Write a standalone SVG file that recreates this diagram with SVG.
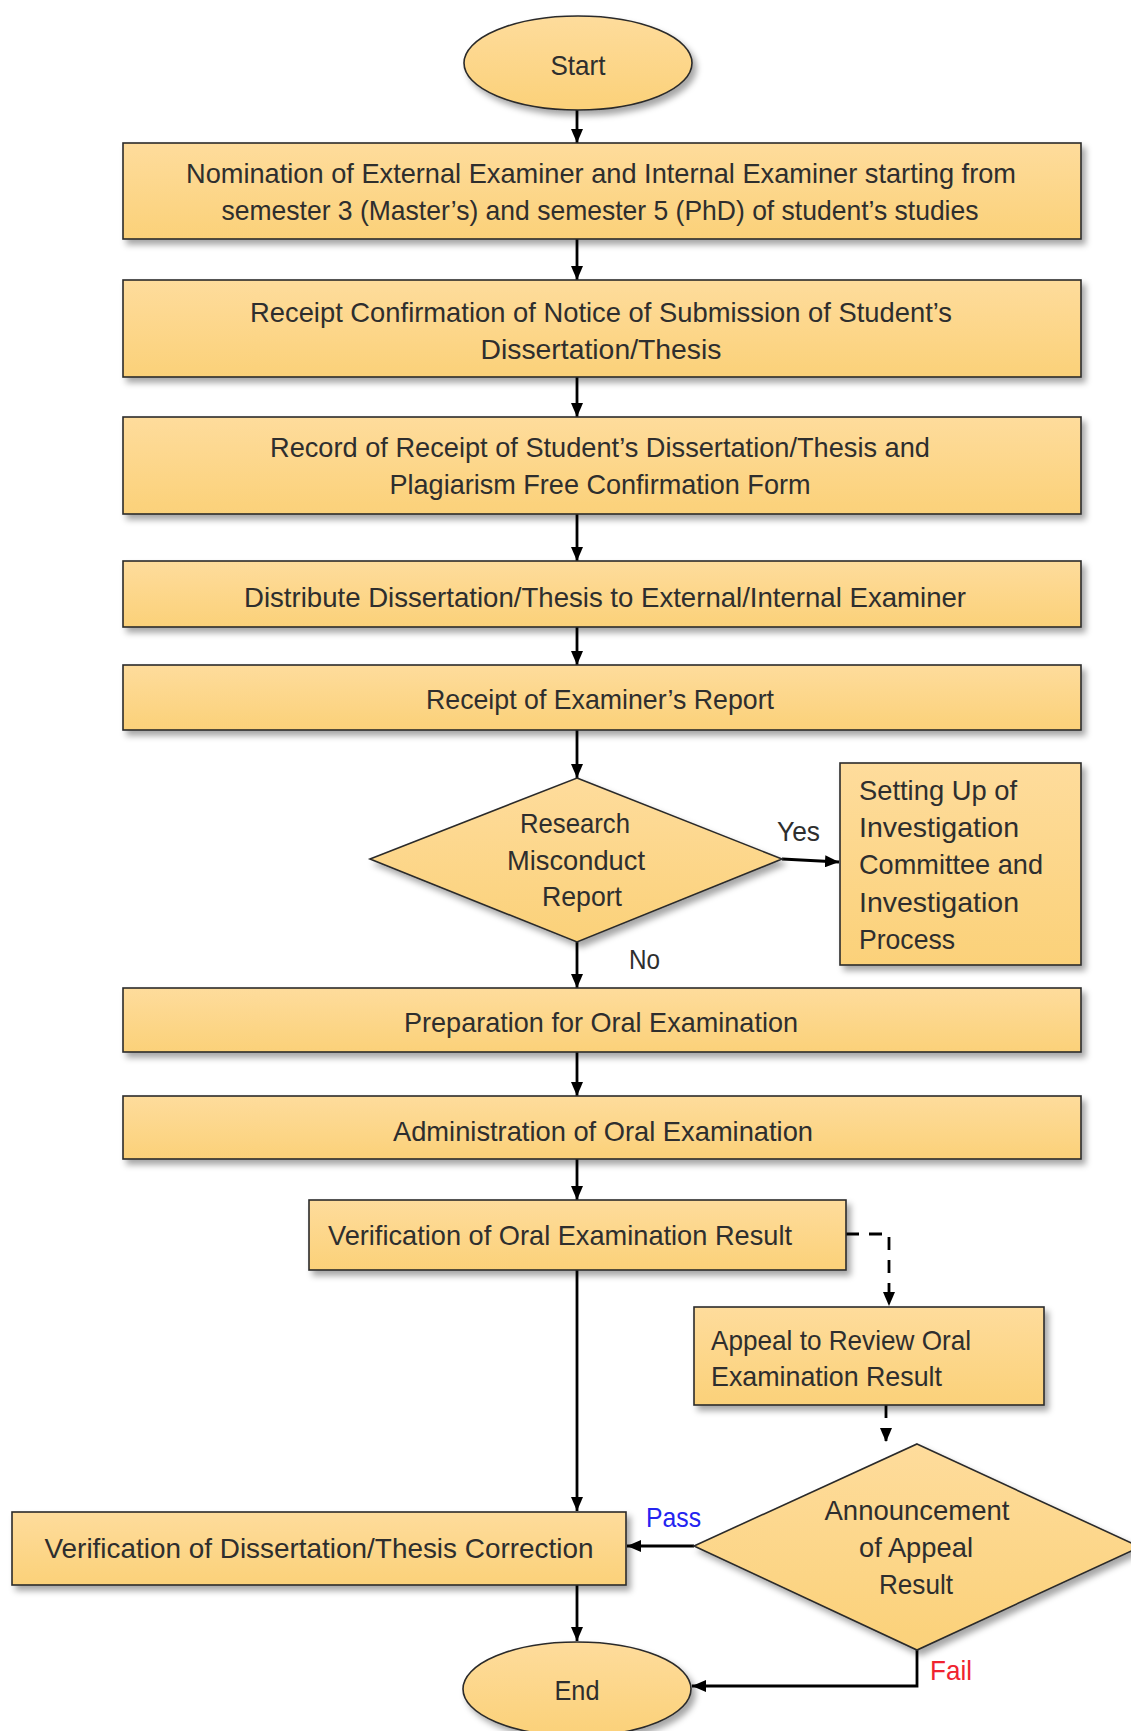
<svg xmlns="http://www.w3.org/2000/svg" width="1131" height="1731" viewBox="0 0 1131 1731">
<style>
.box{fill:url(#g);stroke:#2a2a2a;stroke-width:1.6;filter:url(#sh)}
.t{font-family:"Liberation Sans",Arial,sans-serif;font-size:28px;fill:#2e2e2e}
.c{text-anchor:middle}
.ln{stroke:#000;stroke-width:2.8;fill:none}
.ar{marker-end:url(#a)}
.d{stroke-dasharray:13 10}
</style>
<defs>
<linearGradient id="g" x1="0" y1="0" x2="0" y2="1">
<stop offset="0" stop-color="#FEDC9C"/>
<stop offset="1" stop-color="#FBD179"/>
</linearGradient>
<filter id="sh" x="-10%" y="-20%" width="130%" height="150%">
<feDropShadow dx="4" dy="5" stdDeviation="3" flood-color="#000" flood-opacity="0.35"/>
</filter>
<marker id="a" viewBox="0 0 14 12" markerWidth="14" markerHeight="12" refX="14" refY="6" orient="auto" markerUnits="userSpaceOnUse">
<path d="M0,0 L14,6 L0,12 z" fill="#000"/>
</marker>
</defs>
<rect width="1131" height="1731" fill="#fff"/>

<g id="connectors">
<line class="ln ar" x1="577" y1="110" x2="577" y2="143"/>
<line class="ln ar" x1="577" y1="239" x2="577" y2="280"/>
<line class="ln ar" x1="577" y1="377" x2="577" y2="417"/>
<line class="ln ar" x1="577" y1="514" x2="577" y2="561"/>
<line class="ln ar" x1="577" y1="627" x2="577" y2="665"/>
<line class="ln ar" x1="577" y1="730" x2="577" y2="778"/>
<line class="ln ar" x1="782" y1="859" x2="839" y2="862"/>
<line class="ln ar" x1="577" y1="942" x2="577" y2="988"/>
<line class="ln ar" x1="577" y1="1052" x2="577" y2="1096"/>
<line class="ln ar" x1="577" y1="1159" x2="577" y2="1200"/>
<line class="ln ar" x1="577" y1="1270" x2="577" y2="1511"/>
<polyline class="ln ar d" points="846,1234 889,1234 889,1306"/>
<line class="ln ar d" x1="886" y1="1405" x2="886" y2="1442"/>
<line class="ln ar" x1="694" y1="1546" x2="627" y2="1546"/>
<line class="ln ar" x1="577" y1="1585" x2="577" y2="1641"/>
<polyline class="ln ar" points="917,1650 917,1686 692,1686"/>
<text class="t" x="777" y="841" textLength="43" lengthAdjust="spacingAndGlyphs">Yes</text>
<text class="t" x="629" y="969" textLength="31" lengthAdjust="spacingAndGlyphs">No</text>
<text class="t" x="646" y="1527" style="fill:#2424f0" textLength="55" lengthAdjust="spacingAndGlyphs">Pass</text>
<text class="t" x="930" y="1680" style="fill:#f0232f" textLength="42" lengthAdjust="spacingAndGlyphs">Fail</text>
</g>

<g id="start">
<ellipse class="box" cx="578" cy="63" rx="114" ry="47"/>
<text class="t c" x="578" y="75" textLength="55" lengthAdjust="spacingAndGlyphs">Start</text>
</g>

<g id="nomination">
<rect class="box" x="123" y="143" width="958" height="96"/>
<text class="t c" x="601" y="183" textLength="830" lengthAdjust="spacingAndGlyphs">Nomination of External Examiner and Internal Examiner starting from</text>
<text class="t c" x="600" y="220" textLength="757" lengthAdjust="spacingAndGlyphs">semester 3 (Master’s) and semester 5 (PhD) of student’s studies</text>
</g>

<g id="receipt-confirmation">
<rect class="box" x="123" y="280" width="958" height="97"/>
<text class="t c" x="601" y="322" textLength="702" lengthAdjust="spacingAndGlyphs">Receipt Confirmation of Notice of Submission of Student’s</text>
<text class="t c" x="601" y="359" textLength="241" lengthAdjust="spacingAndGlyphs">Dissertation/Thesis</text>
</g>

<g id="record-receipt">
<rect class="box" x="123" y="417" width="958" height="97"/>
<text class="t c" x="600" y="457" textLength="660" lengthAdjust="spacingAndGlyphs">Record of Receipt of Student’s Dissertation/Thesis and</text>
<text class="t c" x="600" y="494" textLength="421" lengthAdjust="spacingAndGlyphs">Plagiarism Free Confirmation Form</text>
</g>

<g id="distribute">
<rect class="box" x="123" y="561" width="958" height="66"/>
<text class="t c" x="605" y="607" textLength="722" lengthAdjust="spacingAndGlyphs">Distribute Dissertation/Thesis to External/Internal Examiner</text>
</g>

<g id="examiner-report">
<rect class="box" x="123" y="665" width="958" height="65"/>
<text class="t c" x="600" y="709" textLength="348" lengthAdjust="spacingAndGlyphs">Receipt of Examiner’s Report</text>
</g>

<g id="misconduct">
<polygon class="box" points="577,778 782,859 577,942 370,859"/>
<text class="t c" x="575" y="833" textLength="110" lengthAdjust="spacingAndGlyphs">Research</text>
<text class="t c" x="576" y="870" textLength="138" lengthAdjust="spacingAndGlyphs">Misconduct</text>
<text class="t c" x="582" y="906" textLength="80" lengthAdjust="spacingAndGlyphs">Report</text>
</g>

<g id="investigation">
<rect class="box" x="840" y="763" width="241" height="202"/>
<text class="t" x="859" y="800" textLength="158" lengthAdjust="spacingAndGlyphs">Setting Up of</text>
<text class="t" x="859" y="837" textLength="160" lengthAdjust="spacingAndGlyphs">Investigation</text>
<text class="t" x="859" y="874" textLength="184" lengthAdjust="spacingAndGlyphs">Committee and</text>
<text class="t" x="859" y="912" textLength="160" lengthAdjust="spacingAndGlyphs">Investigation</text>
<text class="t" x="859" y="949" textLength="96" lengthAdjust="spacingAndGlyphs">Process</text>
</g>

<g id="preparation">
<rect class="box" x="123" y="988" width="958" height="64"/>
<text class="t c" x="601" y="1032" textLength="394" lengthAdjust="spacingAndGlyphs">Preparation for Oral Examination</text>
</g>

<g id="administration">
<rect class="box" x="123" y="1096" width="958" height="63"/>
<text class="t c" x="603" y="1141" textLength="420" lengthAdjust="spacingAndGlyphs">Administration of Oral Examination</text>
</g>

<g id="verification-result">
<rect class="box" x="309" y="1200" width="537" height="70"/>
<text class="t" x="328" y="1245" textLength="464" lengthAdjust="spacingAndGlyphs">Verification of Oral Examination Result</text>
</g>

<g id="appeal">
<rect class="box" x="694" y="1307" width="350" height="98"/>
<text class="t" x="711" y="1350" textLength="260" lengthAdjust="spacingAndGlyphs">Appeal to Review Oral</text>
<text class="t" x="711" y="1386" textLength="231" lengthAdjust="spacingAndGlyphs">Examination Result</text>
</g>

<g id="announcement">
<polygon class="box" points="917,1444 1140,1547 917,1650 694,1546"/>
<text class="t c" x="917" y="1520" textLength="185" lengthAdjust="spacingAndGlyphs">Announcement</text>
<text class="t c" x="916" y="1557" textLength="114" lengthAdjust="spacingAndGlyphs">of Appeal</text>
<text class="t c" x="916" y="1594" textLength="74" lengthAdjust="spacingAndGlyphs">Result</text>
</g>

<g id="verification-correction">
<rect class="box" x="12" y="1512" width="614" height="73"/>
<text class="t c" x="319" y="1558" textLength="549" lengthAdjust="spacingAndGlyphs">Verification of Dissertation/Thesis Correction</text>
</g>

<g id="end">
<ellipse class="box" cx="577" cy="1689" rx="114" ry="47"/>
<text class="t c" x="577" y="1700" textLength="45" lengthAdjust="spacingAndGlyphs">End</text>
</g>
</svg>
